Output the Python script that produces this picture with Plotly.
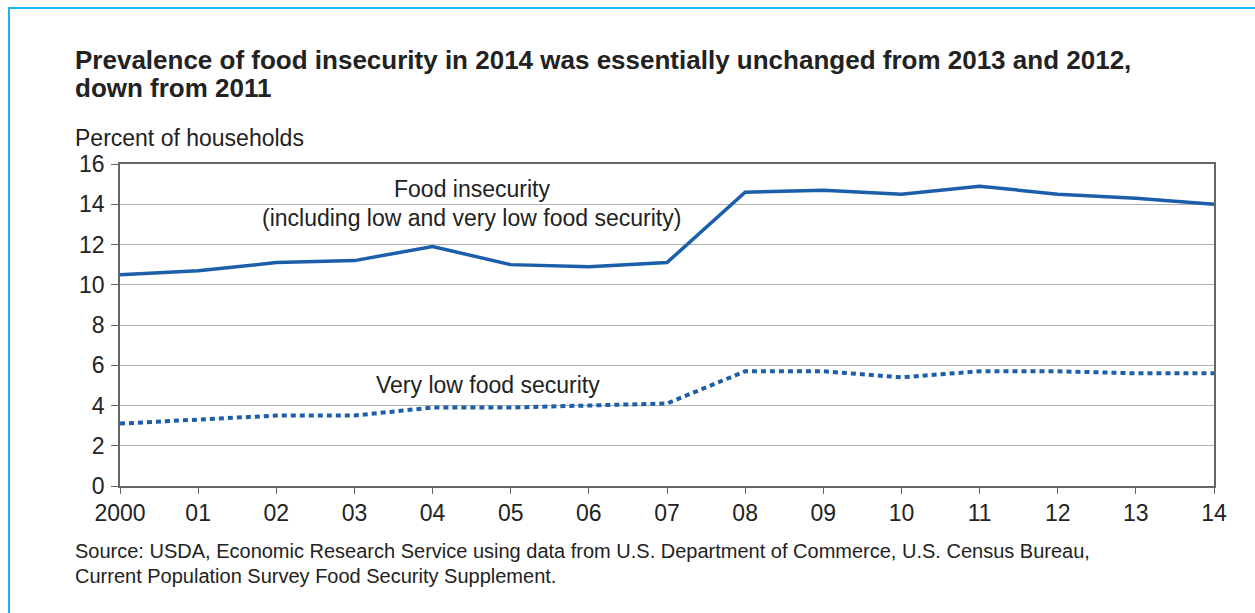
import plotly.graph_objects as go

years = list(range(2000, 2015))
tick_labels = ["2000", "01", "02", "03", "04", "05", "06", "07", "08", "09", "10", "11", "12", "13", "14"]
food_insecurity = [10.5, 10.7, 11.1, 11.2, 11.9, 11.0, 10.9, 11.1, 14.6, 14.7, 14.5, 14.9, 14.5, 14.3, 14.0]
very_low = [3.1, 3.3, 3.5, 3.5, 3.9, 3.9, 4.0, 4.1, 5.7, 5.7, 5.4, 5.7, 5.7, 5.6, 5.6]

BLUE = "#1b5ea9"
FONT = "Liberation Sans, Arial, sans-serif"
TXT = "#222222"
PW, PH = 1094, 322  # plot area size in px


def px_x(px):
    return (px - 120) / PW


def px_y(py):
    return (486 - py) / PH


fig = go.Figure()
fig.add_trace(go.Scatter(x=years, y=food_insecurity, mode="lines",
                         line=dict(color=BLUE, width=3.5), showlegend=False))
fig.add_trace(go.Scatter(x=years, y=very_low, mode="lines",
                         line=dict(color=BLUE, width=4, dash="5px,4px"), showlegend=False))

ann = []
for text, py in [("<b>Prevalence of food insecurity in 2014 was essentially unchanged from 2013 and 2012,</b>", 60),
                 ("<b>down from 2011</b>", 88)]:
    ann.append(dict(xref="paper", yref="paper", x=px_x(73), y=px_y(py), xanchor="left", yanchor="middle",
                    text=text, showarrow=False, font=dict(size=26, color=TXT, family=FONT)))
ann.append(dict(xref="paper", yref="paper", x=px_x(73), y=px_y(138), xanchor="left", yanchor="middle",
                text="Percent of households", showarrow=False, font=dict(size=23, color=TXT, family=FONT)))
ann.append(dict(xref="x", yref="y", x=2004.51, y=14.76, text="Food insecurity", showarrow=False,
                font=dict(size=23, color=TXT, family=FONT)))
ann.append(dict(xref="x", yref="y", x=2004.5, y=13.32, text="(including low and very low food security)",
                showarrow=False, font=dict(size=23, color=TXT, family=FONT)))
ann.append(dict(xref="x", yref="y", x=2004.71, y=5.02, text="Very low food security", showarrow=False,
                font=dict(size=23, color=TXT, family=FONT)))
for text, py in [("Source: USDA, Economic Research Service using data from U.S. Department of Commerce, U.S. Census Bureau,", 551),
                 ("Current Population Survey Food Security Supplement.", 576)]:
    ann.append(dict(xref="paper", yref="paper", x=px_x(73), y=px_y(py), xanchor="left", yanchor="middle",
                    text=text, showarrow=False, font=dict(size=20, color=TXT, family=FONT)))

fig.update_layout(
    width=1255, height=613,
    margin=dict(l=120, r=41, t=164, b=127),
    paper_bgcolor="white", plot_bgcolor="white",
    font=dict(family=FONT, color=TXT, size=23),
    xaxis=dict(range=[2000, 2014], tickmode="array", tickvals=years, ticktext=tick_labels,
               showgrid=False, zeroline=False, showline=True, linecolor="#666666", linewidth=1.5,
               mirror=True, ticks="outside", ticklen=6, tickcolor="#666666",
               tickfont=dict(size=23, color=TXT, family=FONT)),
    yaxis=dict(range=[0, 16], tickvals=[0, 2, 4, 6, 8, 10, 12, 14, 16],
               showgrid=True, gridcolor="#b0b0b0", gridwidth=1, zeroline=False,
               showline=True, linecolor="#666666", linewidth=1.5, mirror=True,
               ticks="outside", ticklen=7, tickcolor="#666666", ticklabelstandoff=2,
               tickfont=dict(size=23, color=TXT, family=FONT)),
    shapes=[dict(type="rect", xref="paper", yref="paper",
                 x0=px_x(9), x1=1.2, y0=-0.5, y1=px_y(8),
                 line=dict(color="#1ab2f0", width=2), layer="below")],
    annotations=ann,
)

fig.write_html("out.html")
